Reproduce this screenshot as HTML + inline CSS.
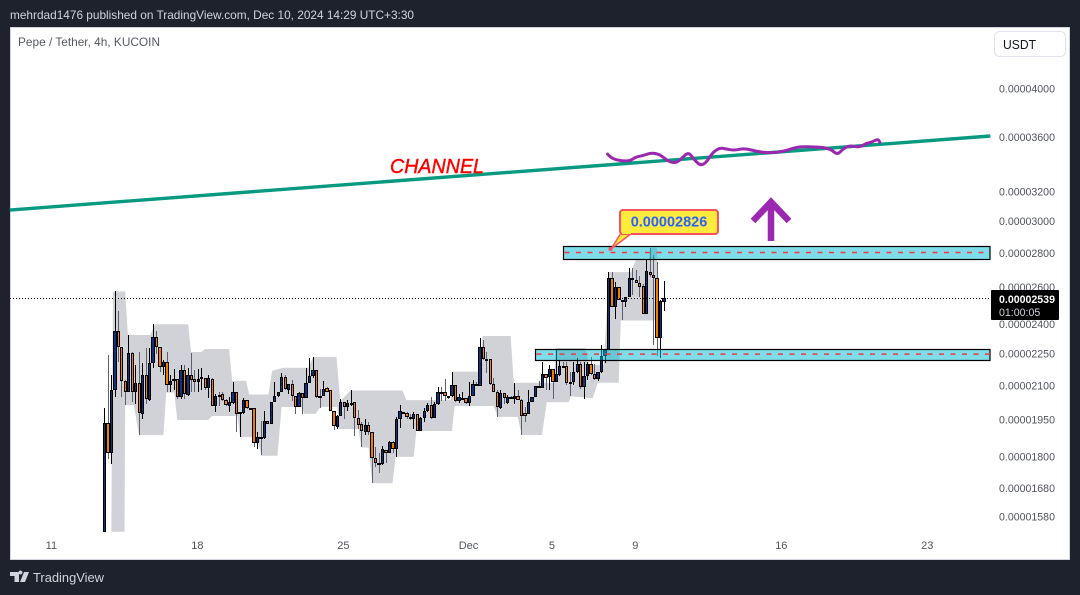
<!DOCTYPE html>
<html lang="en">
<head>
<meta charset="utf-8">
<title>Pepe / Tether, 4h, KUCOIN</title>
<style>
html,body{margin:0;padding:0;width:1080px;height:595px;overflow:hidden;background:#1e222d}
svg{display:block;position:absolute;left:0;top:0}
text{font-family:"Liberation Sans",sans-serif}
</style>
</head>
<body>
<svg id="chart" width="1080" height="595" viewBox="0 0 1080 595" xmlns="http://www.w3.org/2000/svg">
  <text x="10" y="19" font-size="12" fill="#d1d4dc" textLength="404" lengthAdjust="spacingAndGlyphs">mehrdad1476 published on TradingView.com, Dec 10, 2024 14:29 UTC+3:30</text>
  <rect x="10.5" y="27.5" width="1059" height="532" fill="#ffffff" stroke="#d1d4dc" stroke-width="1"/>
  <text x="18" y="46" font-size="12" fill="#555963" textLength="142" lengthAdjust="spacingAndGlyphs">Pepe / Tether, 4h, KUCOIN</text>
  <g id="band-layer"></g>
  <g id="candle-layer"></g>
  <g id="overlay-layer"></g>
  <text x="390" y="173" font-size="20" font-style="italic" fill="#ff0000" stroke="#ff0000" stroke-width="0.4" textLength="94" lengthAdjust="spacingAndGlyphs">CHANNEL</text>
  <g fill="none" stroke="#9c27b0" stroke-width="6.5">
    <path d="M771 241V202"/>
    <path d="M753 221L771 202L789 221"/>
  </g>
  <g>
    <path d="M621 233L632 233L611 249Z" fill="#ffeb3b" stroke="#f7525f" stroke-width="1.5"/>
    <rect x="620" y="210" width="98" height="24" rx="3" fill="#ffeb3b" stroke="#f7525f" stroke-width="2"/>
    <rect x="622" y="231" width="9" height="3" fill="#ffeb3b"/>
    <circle cx="610.5" cy="249" r="2" fill="#f7525f"/>
    <text x="669" y="226.500" font-size="14.500" font-weight="bold" fill="#2962ff" text-anchor="middle">0.00002826</text>
  </g>
  <g id="axis-layer"></g>
  <g>
    <rect x="991" y="290" width="68" height="30" rx="1" fill="#000000"/>
    <text x="999" y="303" font-size="10.600" font-weight="bold" fill="#ffffff">0.00002539</text>
    <text x="999" y="316" font-size="10.600" fill="#d1d4dc">01:00:05</text>
  </g>
  <g>
    <rect x="994.500" y="31.500" width="71" height="25" rx="5" fill="#ffffff" stroke="#e0e3eb"/>
    <text x="1003" y="49" font-size="13" fill="#131722" textLength="33" lengthAdjust="spacingAndGlyphs">USDT</text>
  </g>
  <g>
    <path d="M10 572H19V582H14.500V576H10ZM20.500 574.500A2 2 0 1 1 20.501 574.500ZM24 572H29L25 582H20Z" fill="#d1d4dc"/>
    <text x="33" y="582" font-size="13" fill="#d1d4dc" textLength="71" lengthAdjust="spacingAndGlyphs">TradingView</text>
  </g>
</svg>
<script>
// Prices are in units of 0.00000001 USDT
const opens = [
1530,1937,1817,2083,2365,2285,2123,2074,2255,2070,2114,1976,2151,2036,2208,2335,2285,2189,2212,2105,
2123,2133,2049,2175,2057,2151,2133,2119,2133,2138,2091,2133,2010,2057,2061,2036,2010,2023,2070,1976,
1980,2036,1997,2001,1854,1879,1875,1946,1933,2027,2053,2074,2142,2083,2109,2053,2006,2066,2044,2114,
2147,2175,2053,2053,2091,2079,1988,1921,1967,2027,2006,2018,2027,1958,1933,1900,1929,1900,1796,1777,
1773,1829,1817,1858,1833,1954,1984,1980,1963,1954,1976,1904,1958,1988,2014,1958,2018,2070,2070,2053,
2053,2105,2031,2040,2044,2023,2053,2109,2100,2285,2227,2227,2109,2074,2001,2066,2023,2049,2040,2053,
2036,1980,1976,2027,2049,2100,2091,2156,2142,2180,2119,2151,2194,2194,2119,2119,2166,2203,2096,2147,
2203,2156,2133,2166,2241,2270,2653,2492,2600,2530,2519,2546,2653,2641,2623,2611,2454,2688,2670,2653,
2330,2519];
const closes = [
1937,1817,2083,2365,2285,2123,2074,2255,2070,2114,1980,2151,2040,2208,2335,2285,2189,2212,2105,2123,
2133,2049,2175,2061,2151,2128,2119,2133,2142,2091,2138,2010,2053,2053,2036,2014,2027,2070,1976,1984,
2036,2001,2001,1854,1879,1875,1946,1933,2027,2053,2074,2142,2087,2109,2053,2006,2066,2044,2114,2147,
2175,2049,2049,2087,2074,1988,1925,1967,2027,2006,2023,2023,1958,1929,1904,1929,1900,1796,1777,1773,
1833,1817,1858,1833,1954,1988,1980,1963,1954,1976,1904,1958,1988,2014,1958,2018,2070,2066,2053,2049,
2105,2031,2049,2044,2023,2053,2109,2105,2285,2227,2222,2109,2074,2006,2066,2044,2049,2044,2053,2036,
1967,1967,2027,2049,2100,2096,2156,2138,2180,2119,2156,2194,2189,2114,2114,2166,2203,2096,2147,2203,
2156,2133,2166,2241,2275,2653,2492,2600,2530,2519,2546,2653,2641,2623,2605,2454,2694,2670,2653,2330,
2524,2539];
const highs = [
2001,2245,2151,2578,2470,2285,2128,2345,2260,2198,2260,2208,2280,2280,2400,2365,2285,2222,2260,2151,
2180,2133,2198,2198,2184,2255,2175,2180,2184,2138,2151,2138,2061,2070,2070,2040,2049,2119,2070,1984,
2044,2036,2001,2001,1900,1946,1988,1946,2027,2119,2074,2161,2151,2109,2128,2053,2070,2066,2184,2231,
2236,2175,2087,2123,2096,2079,1988,1971,2040,2027,2036,2079,2027,1993,1942,1954,1942,1900,1837,1817,
1842,1829,1862,1862,1963,2014,1984,1984,1976,1984,1976,1963,2001,2023,2049,2027,2096,2096,2133,2053,
2166,2105,2061,2074,2044,2119,2128,2119,2330,2320,2260,2227,2138,2079,2083,2066,2057,2053,2114,2083,
2040,2006,2079,2049,2100,2123,2212,2156,2198,2180,2275,2222,2212,2212,2166,2212,2231,2212,2212,2212,
2236,2203,2166,2295,2275,2688,2688,2629,2600,2530,2546,2711,2711,2700,2664,2617,2759,2835,2788,2747,
2530,2635];
const lows = [
1530,1792,1773,2049,2212,2049,2014,2074,2027,2018,1887,1954,2018,2031,2184,2250,2166,2151,2074,2074,
2083,2040,2040,2040,2053,2074,2074,2070,2083,2083,2044,2010,1984,2010,2031,2010,1984,2018,1900,1879,
1976,1997,1997,1837,1833,1808,1871,1933,1933,2027,2049,2070,2083,2061,2031,1976,2006,1976,2044,2114,
2138,2044,2001,2053,2074,1988,1908,1912,1967,1954,1988,2010,1883,1912,1837,1887,1887,1700,1761,1738,
1769,1777,1817,1817,1800,1917,1976,1954,1950,1912,1904,1904,1942,1984,1954,1958,2014,2031,2031,2040,
2049,2027,2023,2036,2018,2010,2053,2105,2100,2222,2161,2105,2070,1963,1997,2018,2018,2044,2018,2036,
1887,1942,1976,2027,2049,2096,2091,2079,2079,2040,2119,2147,2184,2105,2053,2105,2161,2087,2040,2128,
2151,2128,2123,2161,2208,2270,2492,2427,2530,2422,2492,2546,2557,2623,2546,2454,2454,2658,2295,2241,
2231,2470];

const upperBars = [2.5,6,6.8,13.2,14.6,24.1,25,27.9,29,35.9,36.8,40.8,41.7,47.2,48.3,51.5,58.7,60.1,66.8,67.9,70.8,85.8,86.9,99.6,100.2,108.3,108.8,116.9,117.8,129.3,129.9,138.5,139.4,143.7,145.2,151.5,152.9,156.7,157,159];
const upperValues = [2578,2578,2345,2345,2400,2400,2260,2260,2275,2275,2123,2123,2061,2061,2170,2184,2184,2236,2236,2031,2079,2079,2036,2036,2166,2166,2340,2340,2114,2114,2280,2280,2198,2198,2688,2688,2759,2759,2835,2835];
const lowerBars = [2,5.8,6,8.5,10,17,17.8,20.1,21,29.9,31,38.3,39.1,44,45.2,49.8,51,57,57.4,60.7,62.2,67,67.4,73.1,74,76,77.1,82.9,83.8,89,89.8,100,100.8,112,113.2,118.9,120.1,125.9,127.3,133.6,134.2,140.5,142,148,148.6,159];
const lowerValues = [1530,1530,2014,2014,1887,1887,2070,2070,1950,1950,1967,1967,1879,1879,1804,1804,2006,2006,1976,1976,2006,2006,1912,1912,1837,1837,1700,1700,1800,1800,1904,1904,2010,2010,1963,1963,1887,1887,2027,2027,2053,2044,2114,2114,2420,2420];

const zoneStartBars = [132,124];
const zoneTops = [2847,2275];
const zoneBottoms = [2765,2222];
const zoneMids = [2805,2250];

const channelBars = [-27.2,254.9];
const channelValues = [3076,3612];

const curveBars = [144.8,145.7,147.7,150.1,151.5,153,154.9,157.1,159.2,160.6,162.5,164.5,165.9,168,169.6,171.5,173.1,175,177,178.9,181.3,184.2,188,191.9,195.2,198.1,200.5,204.4,207.2,209.2,210.9,212.5,214.4,216.4,217.8,219.2,220.7,222.6,223.1];
const curveValues = [3473,3446,3426,3421,3426,3452,3460,3481,3475,3454,3415,3407,3434,3491,3434,3387,3407,3485,3520,3512,3501,3517,3491,3481,3493,3517,3530,3527,3522,3506,3467,3512,3538,3527,3532,3556,3563,3590,3563];

const lastPrice = 2539;
const priceTicks = [4000,3600,3200,3000,2800,2600,2400,2250,2100,1950,1800,1680,1580];
const timeTickLabels = ['11','18','25','Dec','5','9','16','23'];
const timeTickBars = [-15,27,69,105,129,153,195,237];

const SVGNS = 'http://www.w3.org/2000/svg';
const PANE_RIGHT = 990;
function xOf(bar){ return 104.3 + 3.476 * bar; }
function yOf(price){ return 89 + 460.7 * Math.log(4000 / price); }
function mk(parent, tag, attrs){
  const el = document.createElementNS(SVGNS, tag);
  for (const k in attrs) el.setAttribute(k, attrs[k]);
  parent.appendChild(el);
  return el;
}

// grey band
const bandLayer = document.getElementById('band-layer');
const bandPts = [];
upperBars.forEach(function(b, i){ bandPts.push(xOf(b).toFixed(1) + ',' + yOf(upperValues[i]).toFixed(1)); });
for (let i = lowerBars.length - 1; i >= 0; i--) bandPts.push(xOf(lowerBars[i]).toFixed(1) + ',' + yOf(lowerValues[i]).toFixed(1));
const band = mk(bandLayer, 'polygon', {points: bandPts.join(' '), fill: '#d1d2d7'});



// candles
const candleLayer = document.getElementById('candle-layer');
opens.forEach(function(open, i){
  const close = closes[i];
  const up = close >= open;
  const cx = xOf(i);
  const left = Math.round(cx - 1.5);
  const right = Math.round(cx + 1.8);
  const wickX = Math.floor((left + right) / 2);
  const g = mk(candleLayer, 'g', {'shape-rendering': 'crispEdges'});
  
  
  const yHigh = Math.round(yOf(highs[i]));
  const yLow = Math.round(yOf(lows[i]));
  const yTop = Math.round(yOf(Math.max(open, close)));
  const yBot = Math.max(yTop + 2, Math.round(yOf(Math.min(open, close))));
  const wick = mk(g, 'rect', {x: wickX, y: yHigh, width: 1, height: Math.max(1, yLow - yHigh), fill: up ? '#000000' : '#5d606b'});
  
  
  const body = mk(g, 'rect', {x: left, y: yTop, width: right - left, height: yBot - yTop, fill: '#000000'});
  
  
  if (yBot - yTop > 2) {
    const inner = mk(g, 'rect', {x: left + 1, y: yTop + 1, width: right - left - 2, height: yBot - yTop - 2, fill: up ? '#0f2f80' : '#f57c00'});
    
    
  }
});

// overlays
const overlay = document.getElementById('overlay-layer');
const priceLine = mk(overlay, 'line', {x1: 10, x2: PANE_RIGHT, y1: Math.round(yOf(lastPrice)) + 0.5, y2: Math.round(yOf(lastPrice)) + 0.5, stroke: '#000000', 'stroke-width': 1, 'stroke-dasharray': '1 2'});



zoneStartBars.forEach(function(b, i){
  const left = Math.round(xOf(b)) + 0.5;
  const top = Math.round(yOf(zoneTops[i])) + 0.5;
  const bottom = Math.round(yOf(zoneBottoms[i])) + 0.5;
  const zone = mk(overlay, 'rect', {x: left, y: top, width: PANE_RIGHT - left, height: bottom - top, fill: 'rgba(0,188,212,0.5)', stroke: '#000000', 'stroke-width': 1.2});
  
  
  const mid = mk(overlay, 'line', {x1: left + 1, x2: PANE_RIGHT, y1: yOf(zoneMids[i]), y2: yOf(zoneMids[i]), stroke: '#f23645', 'stroke-width': 1.5, 'stroke-dasharray': '5 6.5'});
  
  
});

const channel = mk(overlay, 'line', {x1: xOf(channelBars[0]), y1: yOf(channelValues[0]), x2: xOf(channelBars[1]), y2: yOf(channelValues[1]), stroke: '#089981', 'stroke-width': 3.4});



let curveD = 'M' + xOf(curveBars[0]).toFixed(1) + ' ' + yOf(curveValues[0]).toFixed(1);
for (let i = 1; i < curveBars.length - 1; i++) {
  const mx = (xOf(curveBars[i]) + xOf(curveBars[i + 1])) / 2;
  const my = (yOf(curveValues[i]) + yOf(curveValues[i + 1])) / 2;
  curveD += 'Q' + xOf(curveBars[i]).toFixed(1) + ' ' + yOf(curveValues[i]).toFixed(1) + ' ' + mx.toFixed(1) + ' ' + my.toFixed(1);
}
curveD += 'L' + xOf(curveBars[curveBars.length - 1]).toFixed(1) + ' ' + yOf(curveValues[curveValues.length - 1]).toFixed(1);
const curve = mk(overlay, 'path', {d: curveD, fill: 'none', stroke: '#9c27b0', 'stroke-width': 3, 'stroke-linecap': 'round', 'stroke-linejoin': 'round'});



// axes
const axisLayer = document.getElementById('axis-layer');
priceTicks.forEach(function(p){
  const t = mk(axisLayer, 'text', {x: 999, y: yOf(p) + 3.5, 'font-size': 10.6, fill: '#50535e'});
  t.textContent = (p / 1e8).toFixed(8);
  
  
});
timeTickLabels.forEach(function(label, i){
  const t = mk(axisLayer, 'text', {x: xOf(timeTickBars[i]) - 0.8, y: 549, 'font-size': 11, fill: '#50535e', 'text-anchor': 'middle'});
  t.textContent = label;
  
  
});
</script>
</body>
</html>
